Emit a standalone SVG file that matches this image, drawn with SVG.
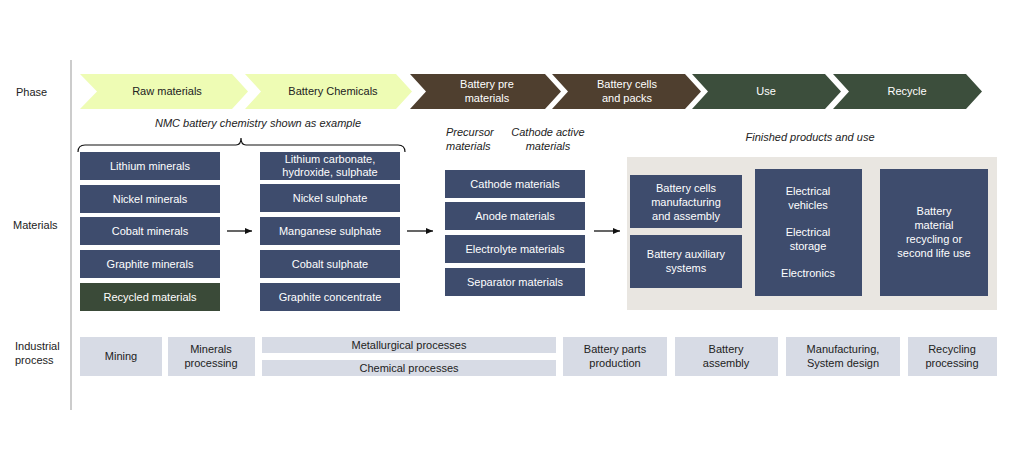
<svg xmlns="http://www.w3.org/2000/svg" width="1024" height="458" viewBox="0 0 1024 458">
<defs>
<style>
text{font-family:"Liberation Sans",Arial,sans-serif;font-size:11px}
.w{fill:#ffffff;text-anchor:middle}
.d{fill:#222;text-anchor:middle}
.l{fill:#222}
.i{font-style:italic;fill:#222}
.n{fill:#3e4c6d}
.p{fill:#d7dbe5}
.y{fill:#eefcb4}
.b{fill:#4f3f2f}
.g{fill:#3c4e3c}
</style>
<marker id="ah" markerWidth="8" markerHeight="8" refX="7" refY="4" orient="auto" markerUnits="userSpaceOnUse"><path d="M0,1 L7,4 L0,7 Z" fill="#111"/></marker>
</defs>
<rect width="1024" height="458" fill="#fff"/>
<line x1="71" y1="60" x2="71" y2="410" stroke="#bbb" stroke-width="1.5"/>
<text class="l" x="16" y="96">Phase</text>
<text class="l" x="13" y="229">Materials</text>
<text class="l" x="15" y="350">Industrial</text>
<text class="l" x="15" y="364">process</text>

<g id="phases">
<polygon class="y" points="80,74 232,74 248,91.5 232,109 80,109 97,91.5"/>
<text class="d" x="167" y="95">Raw materials</text>
<polygon class="y" points="245,74 396,74 412,91.5 396,109 245,109 261,91.5"/>
<text class="d" x="333" y="95">Battery Chemicals</text>
<polygon class="b" points="410,74 545,74 561,91.5 545,109 410,109 426,91.5"/>
<text class="w" x="487" y="88">Battery pre</text><text class="w" x="487" y="102">materials</text>
<polygon class="b" points="552,74 685,74 701,91.5 685,109 552,109 568,91.5"/>
<text class="w" x="627" y="88">Battery cells</text><text class="w" x="627" y="102">and packs</text>
<polygon class="g" points="692,74 825,74 841,91.5 825,109 692,109 708,91.5"/>
<text class="w" x="766" y="95">Use</text>
<polygon class="g" points="833,74 966,74 982,91.5 966,109 833,109 849,91.5"/>
<text class="w" x="907" y="95">Recycle</text>
</g>

<text class="i" x="258" y="127" text-anchor="middle">NMC battery chemistry shown as example</text>
<path d="M78,152 Q78,145 85,145 L236,145 Q241,145 241,138 Q241,145 246,145 L398,145 Q405,145 405,152" fill="none" stroke="#111" stroke-width="1.2"/>
<text class="i" x="446" y="136">Precursor</text><text class="i" x="446" y="150">materials</text>
<text class="i" x="548" y="136" text-anchor="middle">Cathode active</text><text class="i" x="548" y="150" text-anchor="middle">materials</text>
<text class="i" x="810" y="141" text-anchor="middle">Finished products and use</text>

<g id="raw">
<rect class="n" x="80" y="152" width="140" height="28"/><text class="w" x="150" y="170">Lithium minerals</text>
<rect class="n" x="80" y="185" width="140" height="28"/><text class="w" x="150" y="203">Nickel minerals</text>
<rect class="n" x="80" y="217" width="140" height="28"/><text class="w" x="150" y="235">Cobalt minerals</text>
<rect class="n" x="80" y="250" width="140" height="28"/><text class="w" x="150" y="268">Graphite minerals</text>
<rect x="80" y="283" width="140" height="28" fill="#3a4a38"/><text class="w" x="150" y="301">Recycled materials</text>
</g>
<g id="chem">
<rect class="n" x="260" y="152" width="140" height="28"/><text class="w" x="330" y="163">Lithium carbonate,</text><text class="w" x="330" y="176">hydroxide, sulphate</text>
<rect class="n" x="260" y="184" width="140" height="28"/><text class="w" x="330" y="202">Nickel sulphate</text>
<rect class="n" x="260" y="217" width="140" height="28"/><text class="w" x="330" y="235">Manganese sulphate</text>
<rect class="n" x="260" y="250" width="140" height="28"/><text class="w" x="330" y="268">Cobalt sulphate</text>
<rect class="n" x="260" y="283" width="140" height="28"/><text class="w" x="330" y="301">Graphite concentrate</text>
</g>
<g id="pre">
<rect class="n" x="445" y="170" width="140" height="28"/><text class="w" x="515" y="188">Cathode materials</text>
<rect class="n" x="445" y="202" width="140" height="28"/><text class="w" x="515" y="220">Anode materials</text>
<rect class="n" x="445" y="235" width="140" height="28"/><text class="w" x="515" y="253">Electrolyte materials</text>
<rect class="n" x="445" y="268" width="140" height="28"/><text class="w" x="515" y="286">Separator materials</text>
</g>
<g id="finished">
<rect x="627" y="157" width="370" height="153" fill="#e9e6e1"/>
<rect class="n" x="630" y="175" width="112" height="53"/>
<text class="w" x="686" y="192">Battery cells</text><text class="w" x="686" y="206">manufacturing</text><text class="w" x="686" y="220">and assembly</text>
<rect class="n" x="630" y="235" width="112" height="53"/>
<text class="w" x="686" y="258">Battery auxiliary</text><text class="w" x="686" y="272">systems</text>
<rect class="n" x="755" y="169" width="107" height="127"/>
<text class="w" x="808" y="195">Electrical</text><text class="w" x="808" y="209">vehicles</text>
<text class="w" x="808" y="236">Electrical</text><text class="w" x="808" y="250">storage</text>
<text class="w" x="808" y="277">Electronics</text>
<rect class="n" x="880" y="169" width="108" height="127"/>
<text class="w" x="934" y="215">Battery</text><text class="w" x="934" y="229">material</text><text class="w" x="934" y="243">recycling or</text><text class="w" x="934" y="257">second life use</text>
</g>
<g id="connectors" stroke="#111" stroke-width="1.3">
<line x1="227" y1="231" x2="252" y2="231" marker-end="url(#ah)"/>
<line x1="407" y1="231" x2="433" y2="231" marker-end="url(#ah)"/>
<line x1="594" y1="231" x2="620" y2="231" marker-end="url(#ah)"/>
</g>
<g id="industrial">
<rect class="p" x="80" y="337" width="82" height="39"/><text class="d" x="121" y="360">Mining</text>
<rect class="p" x="168" y="337" width="87" height="39"/><text class="d" x="211" y="353">Minerals</text><text class="d" x="211" y="367">processing</text>
<rect class="p" x="262" y="337" width="294" height="16"/><text class="d" x="409" y="349">Metallurgical processes</text>
<rect class="p" x="262" y="360" width="294" height="16"/><text class="d" x="409" y="372">Chemical processes</text>
<rect class="p" x="563" y="337" width="104" height="39"/><text class="d" x="615" y="353">Battery parts</text><text class="d" x="615" y="367">production</text>
<rect class="p" x="675" y="337" width="103" height="39"/><text class="d" x="726" y="353">Battery</text><text class="d" x="726" y="367">assembly</text>
<rect class="p" x="786" y="337" width="114" height="39"/><text class="d" x="843" y="353">Manufacturing,</text><text class="d" x="843" y="367">System design</text>
<rect class="p" x="908" y="337" width="89" height="39"/><text class="d" x="952" y="353">Recycling</text><text class="d" x="952" y="367">processing</text>
</g>
</svg>
